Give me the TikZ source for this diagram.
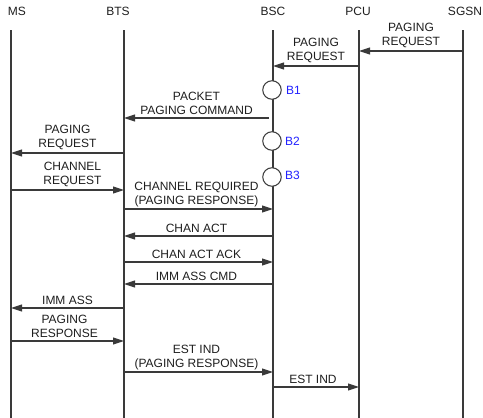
\documentclass[tikz,border=0pt]{standalone}
\usepackage{fontspec}
\setmainfont{Liberation Sans}
\usetikzlibrary{arrows.meta}
\definecolor{linec}{HTML}{3A3A3A}
\definecolor{txtc}{HTML}{1E1E1E}
\definecolor{bluec}{HTML}{2222FF}
\begin{document}
\begin{tikzpicture}[x=1pt,y=-1pt,
  every node/.style={font=\fontsize{12}{14}\selectfont, text=txtc},
  head/.style={anchor=center, inner sep=0pt},
  life/.style={draw=linec, line width=1.1pt},
  msg/.style={draw=linec, line width=1.1pt, -{Triangle[length=11pt,width=7pt]}},
  lbl/.style={anchor=south, align=center, inner sep=0pt},
  proc/.style={circle, draw=linec, line width=1pt, fill=white, minimum size=18.5pt, inner sep=0pt},
  blab/.style={anchor=west, inner sep=0pt, text=bluec}
]
\useasboundingbox (0,0) rectangle (483,418);
% headers
\node[head] (hMS)   at (17,11)  {MS};
\node[head] (hBTS)  at (118,11) {BTS};
\node[head] (hBSC)  at (273,11) {BSC};
\node[head] (hPCU)  at (358,11) {PCU};
\node[head] (hSGSN) at (465,11) {SGSN};
% lifeline ends
\coordinate (ms)   at (11,30);  \coordinate (msE)   at (11,418);
\coordinate (bts)  at (124,30); \coordinate (btsE)  at (124,418);
\coordinate (bsc)  at (273,30); \coordinate (bscE)  at (273,418);
\coordinate (pcu)  at (359,30); \coordinate (pcuE)  at (359,418);
\coordinate (sgsn) at (463,30); \coordinate (sgsnE) at (463,418);
\draw[life] (ms) -- (msE);
\draw[life] (bts) -- (btsE);
\draw[life] (bsc) -- (bscE);
\draw[life] (pcu) -- (pcuE);
\draw[life] (sgsn) -- (sgsnE);
% processing circles
\node[proc] (B1) at (272,90) {};
\node[blab] (B1l) at (286,90) {B1};
\node[proc] (B2) at (272,141) {};
\node[blab] (B2l) at (285,141) {B2};
\node[proc] (B3) at (272,177) {};
\node[blab] (B3l) at (285,175) {B3};
% messages
\draw[msg] (sgsn |- 0,51) -- node[lbl,yshift=3pt] {PAGING\\REQUEST} (pcu |- 0,51);
\draw[msg] (pcu |- 0,66) -- node[lbl,yshift=3pt] {PAGING\\REQUEST} (bsc |- 0,66);
\draw[msg] ([xshift=-4pt]bsc |- 0,118) -- node[lbl,yshift=3pt] {PACKET\\PAGING COMMAND} (bts |- 0,118);
\draw[msg] (bts |- 0,153) -- node[lbl,yshift=3pt] {PAGING\\REQUEST} (ms |- 0,153);
\draw[msg] (ms |- 0,190) -- node[lbl,yshift=3pt,xshift=5pt] {CHANNEL\\REQUEST} (bts |- 0,190);
\draw[msg] (bts |- 0,209) -- node[lbl,yshift=1.5pt,xshift=-2pt] {CHANNEL REQUIRED\\(PAGING RESPONSE)} (bsc |- 0,209);
\draw[msg] (bsc |- 0,236) -- node[lbl,yshift=3pt,xshift=-2pt] {CHAN ACT} (bts |- 0,236);
\draw[msg] (bts |- 0,262) -- node[lbl,yshift=3pt,xshift=-2pt] {CHAN ACT ACK} (bsc |- 0,262);
\draw[msg] (bsc |- 0,284) -- node[lbl,yshift=3pt,xshift=-2pt] {IMM ASS CMD} (bts |- 0,284);
\draw[msg] (bts |- 0,308) -- node[lbl,yshift=3pt] {IMM ASS} (ms |- 0,308);
\draw[msg] (ms |- 0,341) -- node[lbl,yshift=3pt,xshift=-3pt] {PAGING\\RESPONSE} (bts |- 0,341);
\draw[msg] (bts |- 0,372) -- node[lbl,yshift=1.5pt,xshift=-2pt] {EST IND\\(PAGING RESPONSE)} (bsc |- 0,372);
\draw[msg] (bsc |- 0,387) -- node[lbl,yshift=3pt,xshift=-3pt] {EST IND} (pcu |- 0,387);
\end{tikzpicture}
\end{document}
